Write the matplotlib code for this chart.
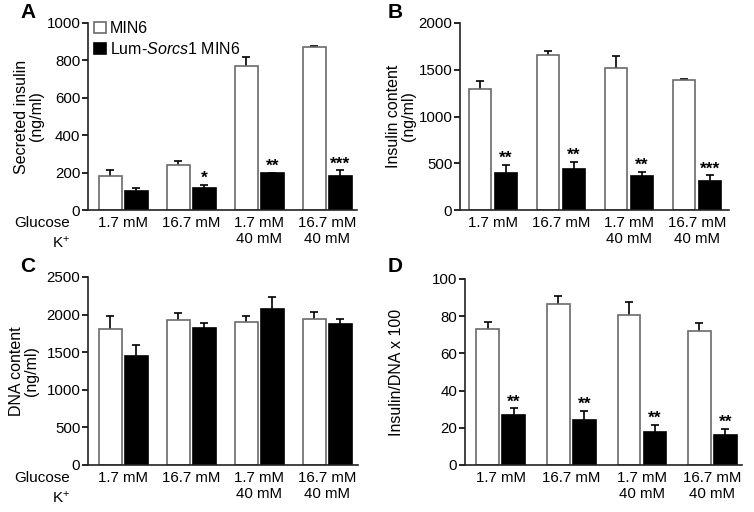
import numpy as np
import matplotlib.pyplot as plt
from matplotlib.patches import Patch

plt.rcParams['font.family'] = ['Liberation Sans', 'DejaVu Sans']
plt.rcParams['mathtext.fontset'] = 'custom'
plt.rcParams['mathtext.rm'] = 'Liberation Sans'
plt.rcParams['mathtext.it'] = 'Liberation Sans:italic'

conditions = ['1.7 mM', '16.7 mM', '1.7 mM\n40 mM', '16.7 mM\n40 mM']

# A - secreted insulin (ng/ml)
secreted_min6 = [184, 241, 772, 873]
secreted_min6_err = [32, 23, 45, 5]
secreted_lum = [100, 119, 196, 184]
secreted_lum_err = [20, 14, 4, 28]
secreted_stars = ['', '*', '**', '***']

# B - insulin content (ng/ml)
content_min6 = [1299, 1662, 1523, 1388]
content_min6_err = [82, 40, 125, 14]
content_lum = [399, 438, 359, 306]
content_lum_err = [85, 80, 50, 64]
content_stars = ['**', '**', '**', '***']

# C - DNA content (ng/ml)
dna_min6 = [1803, 1927, 1896, 1940]
dna_min6_err = [173, 98, 80, 89]
dna_lum = [1443, 1821, 2074, 1869]
dna_lum_err = [147, 62, 164, 67]
dna_stars = ['', '', '', '']

# D - insulin/DNA x 100
ratio_min6 = [72.9, 86.6, 80.9, 72.0]
ratio_min6_err = [4.0, 4.3, 6.6, 4.1]
ratio_lum = [27.0, 24.1, 18.0, 16.3]
ratio_lum_err = [3.4, 4.8, 3.6, 3.2]
ratio_stars = ['**', '**', '**', '**']

W, H = 754, 512
fig = plt.figure(figsize=(W / 100, H / 100), dpi=100)

edge_grey = '#6a6a6a'


def panel(rect, spacing, xlim, white, white_err, black, black_err, stars,
          ymax, yticks, ylabel, label_x, letter, letter_xy, row_names=False):
    l, t, r, b = rect
    ax = fig.add_axes([l / W, 1 - b / H, (r - l) / W, (b - t) / H])
    x = np.arange(len(conditions))
    width = 22.5 / spacing
    off = 13 / spacing
    ax.bar(x - off, white, width, color='white', edgecolor=edge_grey, linewidth=1.2, zorder=2)
    ax.bar(x + off, black, width, color='black', edgecolor='black', linewidth=1.2, zorder=2)
    for xs, vals, err in [(x - off, white, white_err), (x + off, black, black_err)]:
        eb = ax.errorbar(xs, vals, yerr=[np.zeros(len(vals)), err], fmt='none',
                         ecolor='black', elinewidth=1.2, capsize=3, capthick=1.2, zorder=1)
        eb[1][0].set_visible(False)
    for xi, v, e, s in zip(x + off, black, black_err, stars):
        if s:
            ax.annotate(s, (xi, v + e), xytext=(0, 1.5), textcoords='offset points',
                        ha='center', va='baseline', fontsize=12.5, fontweight='bold')
    ax.set_xlim(*xlim)
    ax.set_ylim(0, ymax)
    ax.set_yticks(yticks)
    ax.set_xticks(x)
    ax.set_xticklabels(conditions, fontsize=10.8, linespacing=1.25)
    ax.tick_params(axis='x', length=0, pad=4)
    ax.tick_params(axis='y', direction='out', length=4, width=1.2, labelsize=10.8, pad=1.5)
    for side in ['top', 'right']:
        ax.spines[side].set_visible(False)
    for side in ['left', 'bottom']:
        ax.spines[side].set_linewidth(1.2)
        ax.spines[side].set_color('#222222')
    ax.set_ylabel(ylabel, fontsize=11.5, linespacing=1.0)
    ax.yaxis.set_label_coords(label_x, 0.5)
    fig.text(letter_xy[0] / W, 1 - letter_xy[1] / H, letter, fontsize=15,
             fontweight='bold', ha='left', va='center')
    if row_names:
        ax.annotate('Glucose', (0, 0), xycoords='axes fraction', xytext=(-18, -5.6),
                    textcoords='offset pixels', ha='right', va='top', fontsize=11)
        ax.annotate('K$^{+}$', (0, 0), xycoords='axes fraction', xytext=(-18, -24.5),
                    textcoords='offset pixels', ha='right', va='top', fontsize=11)
    return ax


axA = panel((88, 23, 357, 210), 68, (-0.522, 3.434), secreted_min6, secreted_min6_err,
            secreted_lum, secreted_lum_err, secreted_stars, 1000, [0, 200, 400, 600, 800, 1000],
            'Secreted insulin\n(ng/ml)', -0.165, 'A', (20, 13), row_names=True)
axB = panel((460, 23, 729, 210), 68, (-0.485, 3.47), content_min6, content_min6_err,
            content_lum, content_lum_err, content_stars, 2000, [0, 500, 1000, 1500, 2000],
            'Insulin content\n(ng/ml)', -0.165, 'B', (388, 13))
axC = panel((88, 277, 358, 465), 68, (-0.522, 3.45), dna_min6, dna_min6_err,
            dna_lum, dna_lum_err, dna_stars, 2500, [0, 500, 1000, 1500, 2000, 2500],
            'DNA content\n(ng/ml)', -0.18, 'C', (20, 267), row_names=True)
axD = panel((465, 279, 742, 465), 70.5, (-0.506, 3.42), ratio_min6, ratio_min6_err,
            ratio_lum, ratio_lum_err, ratio_stars, 100, [0, 20, 40, 60, 80, 100],
            'Insulin/DNA x 100', -0.22, 'D', (388, 267))

handles = [Patch(facecolor='white', edgecolor=edge_grey, linewidth=1.2),
           Patch(facecolor='black', edgecolor='black', linewidth=1.2)]
axA.legend(handles, ['MIN6', 'Lum-$\\it{Sorcs1}$ MIN6'], loc='upper left',
           bbox_to_anchor=(0.022, 1.01), frameon=False, fontsize=11.5,
           handlelength=0.75, handleheight=0.75, handletextpad=0.25,
           labelspacing=0.3, borderaxespad=0, borderpad=0)

fig.savefig('out.png', dpi=100)
